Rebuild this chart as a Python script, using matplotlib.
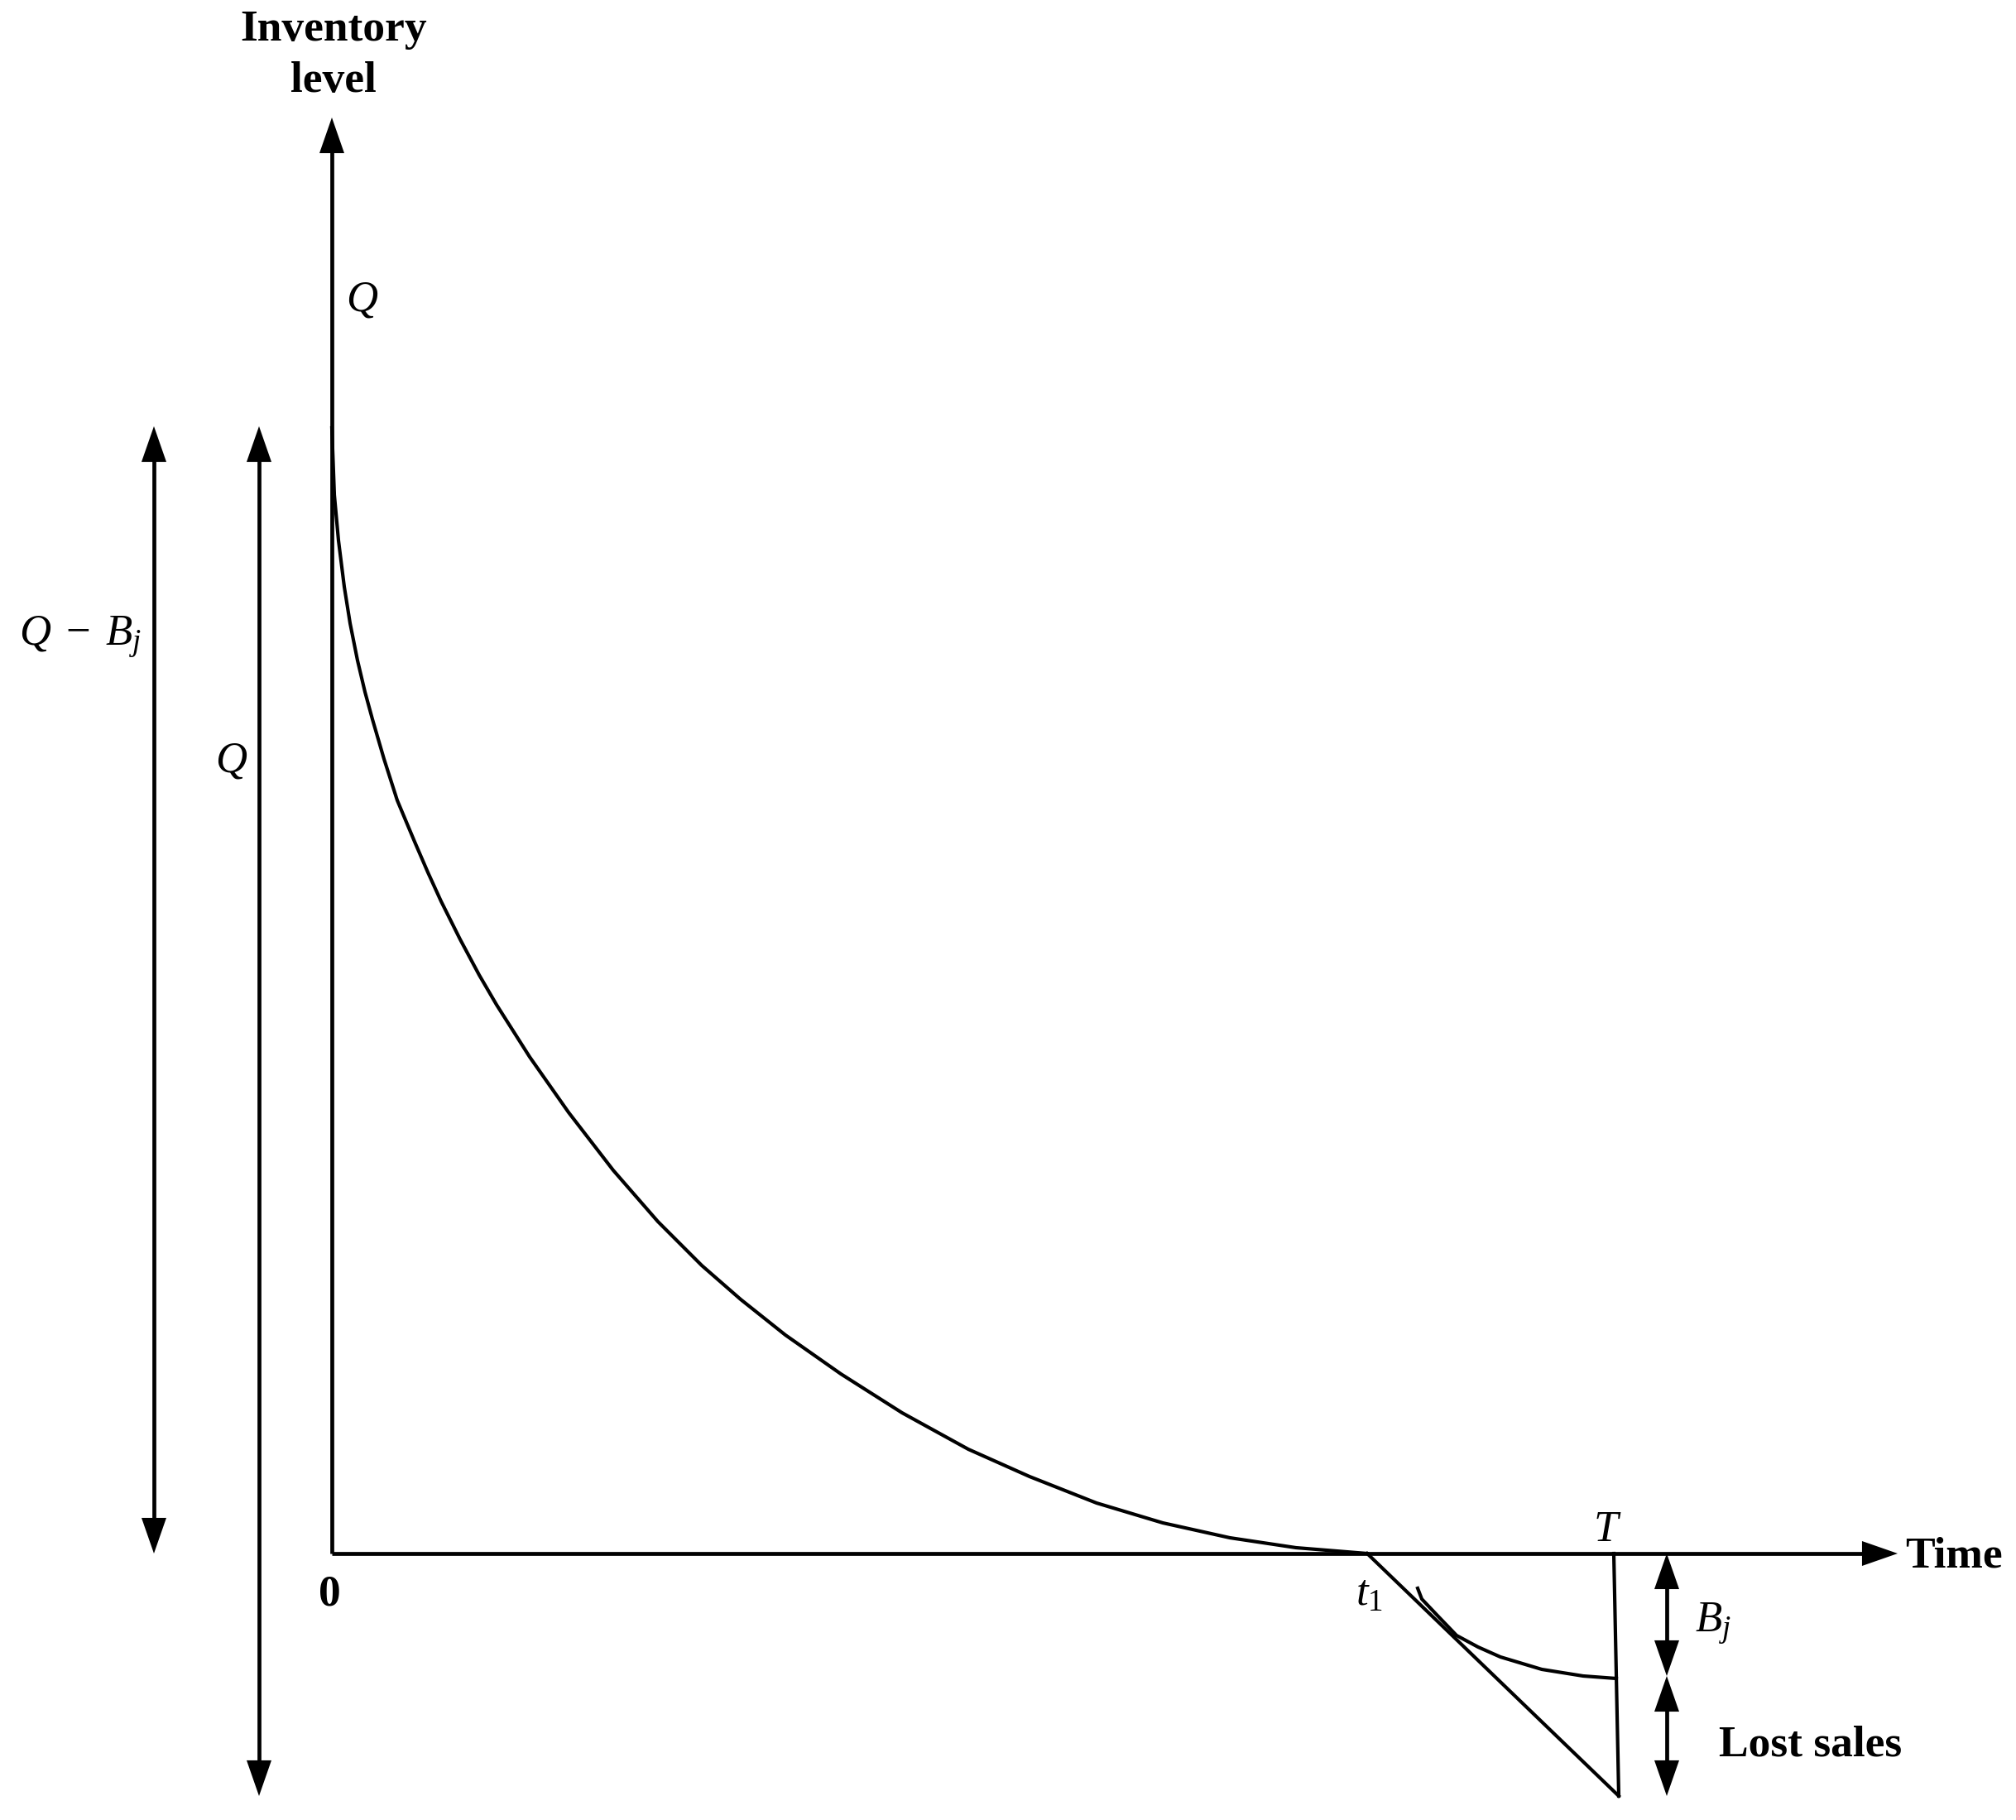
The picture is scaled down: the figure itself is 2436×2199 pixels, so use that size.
import numpy as np
import matplotlib.pyplot as plt
from matplotlib.patches import FancyArrowPatch

plt.rcParams['font.family'] = ['Liberation Serif', 'DejaVu Serif']
plt.rcParams['mathtext.fontset'] = 'custom'
plt.rcParams['mathtext.rm'] = 'Liberation Serif'
plt.rcParams['mathtext.it'] = 'Liberation Serif:italic'
plt.rcParams['mathtext.bf'] = 'Liberation Serif:bold'

# inventory level from 0 to t1
stock_t = [0.00, 0.03, 0.08, 0.15, 0.22, 0.31, 0.40, 0.49, 0.63, 0.79, 1.00, 1.16,
           1.32, 1.55, 1.78, 1.99, 2.39, 2.86, 3.40, 3.94, 4.47, 4.94, 5.48, 6.15,
           6.89, 7.69, 8.43, 9.24, 10.04, 10.85, 11.65, 12.51]
stock_level = [13.60, 12.79, 12.24, 11.68, 11.24, 10.79, 10.41, 10.08, 9.60, 9.10, 8.60, 8.23,
               7.88, 7.42, 6.99, 6.63, 6.00, 5.33, 4.63, 4.01, 3.48, 3.07, 2.64, 2.17,
               1.70, 1.26, 0.93, 0.61, 0.37, 0.19, 0.07, 0.00]

# backordered part of the shortage
backorder_t = [13.12, 13.17, 13.35, 13.59, 13.85, 14.12, 14.62, 15.12, 15.52]
backorder_level = [-0.42, -0.55, -0.74, -0.99, -1.13, -1.25, -1.40, -1.48, -1.51]

t1 = 12.51
T_top, T_bottom = 15.49, 15.55
Q = 13.62
B = 1.48
shortage_total = 2.93
y_axis_top = 17.35
x_axis_end = 18.92

fig = plt.figure(figsize=(24.36, 21.99), dpi=100)
ax = fig.add_axes([0, 0, 1, 1])
ax.set_xlim(-4.01, 20.35)
ax.set_ylim(-3.22, 18.77)
ax.axis('off')

HEAD = 0.2  # how far the shaft stops short of a tip (data units)


def arrow(x0, y0, x1, y1, both=False):
    # shaft drawn as a plain line, heads as filled wedges with no outline
    d = np.hypot(x1 - x0, y1 - y0)
    ux, uy = (x1 - x0) / d, (y1 - y0) / d
    sx0, sy0 = (x0 + ux * HEAD, y0 + uy * HEAD) if both else (x0, y0)
    ax.plot([sx0, x1 - ux * HEAD], [sy0, y1 - uy * HEAD], color='black', lw=3.4,
            solid_capstyle='butt')
    style = '<|-|>' if both else '-|>'
    ax.add_patch(FancyArrowPatch((x0, y0), (x1, y1),
                                 arrowstyle=style + ',head_length=31,head_width=10.8',
                                 mutation_scale=1, lw=0, color='black',
                                 shrinkA=0, shrinkB=0))


# axes
arrow(0, 0, 0, y_axis_top)
arrow(0, 0, x_axis_end, 0)

# inventory curves
ax.plot(stock_t, stock_level, color='black', lw=3.0, solid_joinstyle='round')
ax.plot([t1, T_bottom], [0, -shortage_total], color='black', lw=3.0)
ax.plot([T_top, T_bottom], [0, -shortage_total], color='black', lw=3.0)
ax.plot(backorder_t, backorder_level, color='black', lw=3.0, solid_joinstyle='round')

# dimension arrows on the left
arrow(-2.15, 0, -2.15, Q, both=True)
arrow(-0.88, -shortage_total, -0.88, Q, both=True)
# dimension arrows on the right
arrow(16.13, 0, 16.13, -B, both=True)
arrow(16.13, -B, 16.13, -shortage_total, both=True)

# labels
bold = dict(fontsize=38.5, fontweight='bold', color='black')
mathsz = 38
ax.text(0.02, 18.10, 'Inventory\nlevel', ha='center', va='center', linespacing=1.38, **bold)
ax.text(-0.03, -0.50, '0', ha='center', va='center', **bold)
ax.text(19.01, -0.03, 'Time', ha='left', va='center', **bold)
ax.text(16.76, -2.31, 'Lost sales', ha='left', va='center', **bold)

ax.text(0.37, 15.14, '$Q$', ha='center', va='center', fontsize=mathsz)
ax.text(-3.78, 10.97, r'$Q\;-\;B_j$', ha='left', va='baseline', fontsize=mathsz)
ax.text(-1.21, 9.57, '$Q$', ha='center', va='center', fontsize=mathsz)
ax.text(12.37, -0.63, '$t_1$', ha='left', va='baseline', fontsize=mathsz)
ax.text(15.41, 0.28, '$T$', ha='center', va='center', fontsize=mathsz)
ax.text(16.47, -0.95, '$B_j$', ha='left', va='baseline', fontsize=mathsz)

fig.savefig('out.png', dpi=100, facecolor='white')
